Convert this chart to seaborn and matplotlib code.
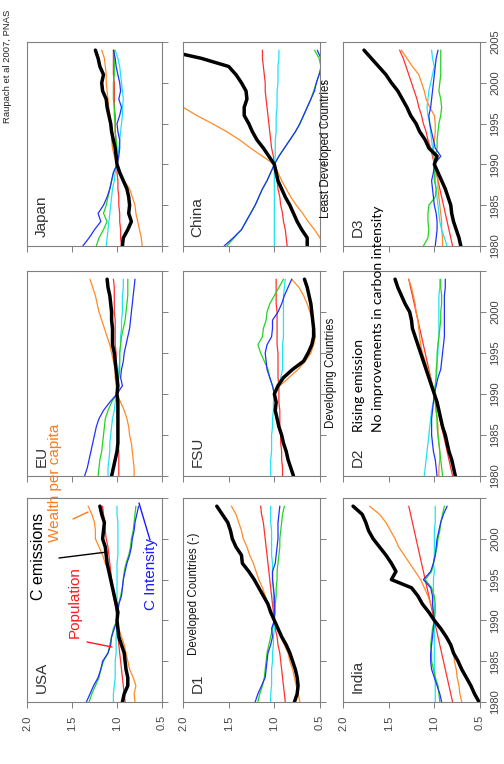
import numpy as np
import seaborn as sns
import matplotlib.pyplot as plt
from matplotlib.lines import Line2D

NA = np.nan
YEARS = list(range(1980, 2005))

# USA
usa_emis = [0.94, 0.92, 0.88, 0.88, 0.90, 0.91, 0.92, 0.95, 0.98, 0.99, 1.00, 0.99, 1.01, 1.03, 1.05, 1.07, 1.09, 1.11, 1.12, 1.13, 1.16, 1.15, 1.14, 1.17, 1.19]
usa_pop = [0.91, 0.92, 0.93, 0.94, 0.95, 0.96, 0.97, 0.98, 0.99, 0.99, 1.00, 1.01, 1.02, 1.04, 1.05, 1.06, 1.07, 1.08, 1.09, 1.10, 1.12, 1.13, 1.14, 1.15, 1.16]
usa_wealth = [0.80, 0.81, 0.79, 0.82, 0.86, 0.88, 0.90, 0.92, 0.95, 0.98, 1.00, 0.98, 1.00, 1.02, 1.05, 1.06, 1.09, 1.13, 1.16, 1.20, 1.24, 1.24, 1.25, 1.28, 1.32]
usa_cyan = [1.04, 1.04, 1.03, 1.02, 1.02, 1.02, 1.01, 1.01, 1.01, 1.00, 1.00, 1.00, 1.00, 1.00, 1.00, 1.00, 1.00, 1.00, 0.99, 0.99, 0.99, 0.99, 0.99, 1.00, 1.00]
usa_green = [1.31, 1.28, 1.24, 1.20, 1.18, 1.15, 1.10, 1.08, 1.06, 1.04, 1.00, 0.99, 0.98, 0.96, 0.94, 0.93, 0.92, 0.90, 0.87, 0.85, 0.84, 0.82, 0.81, 0.80, 0.79]
usa_cint = [1.34, 1.30, 1.26, 1.21, 1.18, 1.16, 1.10, 1.07, 1.06, 1.03, 1.00, 0.99, 0.98, 0.95, 0.94, 0.93, 0.91, 0.89, 0.86, 0.84, 0.83, 0.81, 0.80, 0.78, 0.76]

# EU
eu_emis = [1.06, 1.04, 1.02, 1.00, 0.99, 0.99, 0.99, 0.99, 0.99, 0.99, 1.00, 0.99, 1.00, 1.01, 1.02, 1.03, 1.05, 1.05, 1.05, 1.06, 1.06, 1.07, 1.08, 1.10, 1.11]
eu_pop = [0.98, 0.98, 0.98, 0.98, 0.99, 0.99, 0.99, 0.99, 0.99, 1.00, 1.00, 1.00, 1.01, 1.01, 1.01, 1.01, 1.02, 1.02, 1.02, 1.02, 1.03, 1.03, 1.03, 1.03, 1.04]
eu_wealth = [0.81, 0.81, 0.82, 0.83, 0.84, 0.86, 0.87, 0.89, 0.92, 0.96, 1.00, 1.01, 1.02, 1.02, 1.04, 1.06, 1.08, 1.11, 1.14, 1.17, 1.20, 1.22, 1.24, 1.27, 1.30]
eu_cyan = [1.10, 1.10, 1.09, 1.08, 1.08, 1.07, 1.06, 1.05, 1.03, 1.02, 1.00, 0.99, 0.99, 0.98, 0.97, 0.97, 0.96, 0.96, 0.95, 0.95, 0.94, 0.94, 0.94, 0.93, 0.93]
eu_green = [1.21, 1.20, 1.19, 1.17, 1.16, 1.15, 1.14, 1.13, 1.10, 1.06, 1.00, 0.99, 0.98, 0.97, 0.97, 0.97, 0.96, 0.95, 0.93, 0.91, 0.90, 0.89, 0.88, 0.88, 0.88]
eu_cint = [1.36, 1.33, 1.31, 1.29, 1.27, 1.25, 1.23, 1.20, 1.15, 1.08, 1.00, 0.94, 0.96, 0.95, 0.93, 0.92, 0.90, 0.88, 0.86, 0.85, 0.84, 0.83, 0.82, 0.81, 0.80]

# Japan
jp_emis = [0.94, 0.93, 0.88, 0.84, 0.87, 0.86, 0.87, 0.89, 0.93, 0.97, 1.00, 1.01, 1.02, 1.04, 1.06, 1.07, 1.09, 1.11, 1.12, 1.16, 1.17, 1.15, 1.19, 1.21, 1.24]
jp_pop = [0.95, 0.96, 0.96, 0.97, 0.97, 0.98, 0.98, 0.99, 0.99, 1.00, 1.00, 1.00, 1.01, 1.01, 1.02, 1.02, 1.02, 1.03, 1.03, 1.03, 1.03, 1.04, 1.04, 1.04, 1.04]
jp_wealth = [0.72, 0.73, 0.75, 0.77, 0.79, 0.80, 0.83, 0.86, 0.92, 0.96, 1.00, 1.03, 1.05, 1.06, 1.06, 1.07, 1.08, 1.09, 1.10, 1.11, 1.12, 1.12, 1.13, 1.14, 1.17]
jp_cyan = [1.12, 1.11, 1.10, 1.09, 1.08, 1.07, 1.06, 1.05, 1.03, 1.02, 1.00, 0.99, 0.98, 0.97, 0.96, 0.95, 0.94, 0.94, 0.93, 0.94, 0.95, 0.96, 0.97, 0.99, 1.02]
jp_green = [1.23, 1.20, 1.15, 1.11, 1.15, 1.12, 1.10, 1.08, 1.06, 1.04, 1.00, 1.00, 1.00, 1.01, 1.02, 1.02, 1.03, 1.03, 1.04, 1.04, 1.04, 1.03, 1.03, 1.03, 1.03]
jp_cint = [1.38, 1.31, 1.25, 1.18, 1.21, 1.15, 1.11, 1.08, 1.06, 1.04, 1.00, 0.98, 0.97, 0.97, 0.99, 1.00, 0.97, 0.95, 0.98, 0.96, 0.97, 0.99, 1.01, 1.02, 1.04]

# D1
d1_emis = [0.78, 0.75, 0.74, 0.75, 0.77, 0.80, 0.83, 0.87, 0.92, 0.96, 1.00, 1.04, 1.07, 1.12, 1.17, 1.22, 1.28, 1.35, 1.36, 1.42, 1.46, 1.48, 1.51, 1.57, 1.63]
d1_pop = [0.88, 0.89, 0.90, 0.91, 0.92, 0.93, 0.94, 0.96, 0.97, 0.99, 1.00, 1.01, 1.02, 1.03, 1.04, 1.05, 1.06, 1.07, 1.08, 1.09, 1.10, 1.11, 1.12, 1.14, 1.15]
d1_wealth = [0.72, 0.74, 0.76, 0.78, 0.80, 0.83, 0.85, 0.89, 0.93, 0.97, 1.00, 1.04, 1.07, 1.10, 1.13, 1.17, 1.20, 1.23, 1.27, 1.30, 1.34, 1.36, 1.39, 1.42, 1.47]
d1_cyan = [1.04, 1.04, 1.03, 1.03, 1.03, 1.02, 1.02, 1.01, 1.01, 1.00, 1.00, 1.00, 1.01, 1.01, 1.01, 1.02, 1.02, 1.02, 1.03, 1.03, 1.03, 1.03, 1.04, 1.04, 1.04]
d1_green = [1.18, 1.16, 1.13, 1.11, 1.10, 1.09, 1.08, 1.06, 1.04, 1.02, 1.00, 0.99, 0.99, 0.98, 0.98, 0.97, 0.97, 0.96, 0.95, 0.94, 0.94, 0.93, 0.92, 0.91, 0.89]
d1_cint = [1.21, 1.18, 1.14, 1.10, 1.09, 1.08, 1.07, 1.04, 1.02, 1.03, 1.00, 1.00, 1.00, 1.00, 1.01, 1.02, 1.02, 0.99, 0.98, 0.97, 0.96, 0.96, 0.96, 0.95, 0.94]

# FSU
fsu_emis = [0.79, 0.82, 0.85, 0.87, 0.90, 0.92, 0.95, 0.97, 0.99, 0.98, 1.00, 0.96, 0.90, 0.80, 0.68, 0.63, 0.59, 0.57, 0.57, 0.58, 0.59, 0.60, 0.62, 0.64, 0.67]
fsu_pop = [0.91, 0.91, 0.92, 0.92, 0.93, 0.93, 0.94, 0.94, 0.94, 0.95, 0.95, 0.95, 0.96, 0.96, 0.96, 0.96, 0.97, 0.97, 0.97, 0.97, 0.97, 0.98, 0.98, 0.98, 0.98]
fsu_wealth = [NA, NA, NA, NA, NA, NA, NA, NA, NA, NA, 1.00, 0.94, 0.84, 0.74, 0.66, 0.60, 0.57, 0.55, 0.56, 0.58, 0.61, 0.64, 0.68, 0.73, 0.81]
fsu_cyan = [1.04, 1.04, 1.04, 1.03, 1.03, 1.03, 1.02, 1.02, 1.01, 1.01, 1.00, 0.96, 0.93, 0.91, 0.91, 0.91, 0.91, 0.90, 0.90, 0.90, 0.90, 0.90, 0.90, 0.89, 0.88]
fsu_green = [NA, NA, NA, NA, NA, NA, NA, NA, NA, NA, 1.00, 1.02, 1.05, 1.07, 1.11, 1.15, 1.18, 1.13, 1.12, 1.09, 1.08, 1.05, 1.00, 0.95, 0.90]
fsu_cint = [NA, NA, NA, NA, NA, NA, NA, NA, NA, NA, 1.00, 1.02, 1.05, 1.08, 1.09, 1.10, 1.08, 1.03, 1.02, 1.02, 0.96, 0.92, 0.89, 0.85, 0.81]

# China
cn_emis = [0.64, 0.64, 0.70, 0.75, 0.79, 0.83, 0.88, 0.92, 0.96, 0.98, 1.00, 1.06, 1.12, 1.19, 1.24, 1.28, 1.33, 1.33, 1.30, 1.31, 1.36, 1.42, 1.50, 1.80, 2.20]
cn_pop = [0.86, 0.87, 0.88, 0.90, 0.91, 0.93, 0.94, 0.96, 0.97, 0.99, 1.00, 1.01, 1.03, 1.04, 1.05, 1.06, 1.07, 1.08, 1.09, 1.10, 1.10, 1.11, 1.12, 1.13, 1.13]
cn_wealth = [0.45, 0.50, 0.56, 0.63, 0.69, 0.76, 0.82, 0.87, 0.92, 0.96, 1.00, 1.13, 1.26, 1.38, 1.52, 1.68, 1.85, 2.00, 2.15, 2.30, 2.45, 2.62, 2.80, 3.05, 3.35]
cn_cyan = [1.00, 1.00, 1.00, 1.00, 1.00, 1.00, 1.00, 1.00, 1.00, 1.00, 1.00, 0.99, 0.99, 0.99, 0.98, 0.98, 0.98, 0.97, 0.97, 0.97, 0.96, 0.96, 0.96, 0.95, 0.95]
cn_green = [1.52, 1.44, 1.36, 1.31, 1.26, 1.21, 1.17, 1.13, 1.08, 1.04, 1.00, 0.95, 0.89, 0.83, 0.77, 0.72, 0.68, 0.64, 0.60, 0.57, 0.54, 0.51, 0.49, 0.51, 0.56]
cn_cint = [1.55, 1.45, 1.36, 1.31, 1.26, 1.21, 1.17, 1.13, 1.08, 1.04, 1.00, 0.95, 0.89, 0.83, 0.77, 0.72, 0.68, 0.64, 0.60, 0.56, 0.54, 0.51, 0.48, 0.49, 0.53]

# India
in_emis = [0.51, 0.56, 0.60, 0.65, 0.70, 0.74, 0.79, 0.82, 0.87, 0.93, 1.00, 1.06, 1.13, 1.18, 1.25, 1.47, 1.42, 1.47, 1.53, 1.60, 1.67, 1.72, 1.75, 1.79, 1.89]
in_pop = [0.80, 0.82, 0.84, 0.86, 0.88, 0.90, 0.92, 0.94, 0.96, 0.98, 1.00, 1.02, 1.04, 1.06, 1.08, 1.10, 1.12, 1.14, 1.16, 1.18, 1.20, 1.22, 1.24, 1.26, 1.28]
in_wealth = [0.70, 0.72, 0.73, 0.75, 0.76, 0.78, 0.79, 0.83, 0.87, 0.93, 1.00, 1.00, 1.04, 1.07, 1.11, 1.15, 1.21, 1.27, 1.33, 1.39, 1.43, 1.48, 1.53, 1.60, 1.71]
in_cyan = [0.99, 0.99, 0.99, 0.99, 1.00, 1.00, 1.00, 1.00, 1.00, 1.00, 1.00, 1.00, 1.00, 1.01, 1.01, 1.01, 1.00, 1.01, 1.00, 1.00, 1.00, 1.00, 0.99, 0.99, 0.99]
in_green = [0.94, 0.95, 0.96, 0.99, 1.01, 1.03, 1.03, 1.04, 1.03, 1.02, 1.00, 0.99, 0.99, 1.00, 1.03, 1.10, 1.03, 1.01, 0.99, 0.97, 0.96, 0.94, 0.93, 0.91, 0.89]
in_cint = [0.92, 0.94, 0.97, 1.00, 1.03, 1.04, 1.04, 1.03, 1.02, 1.01, 1.00, 1.01, 1.02, 1.02, 1.04, 1.12, 1.04, 1.01, 0.99, 0.98, 0.97, 0.95, 0.93, 0.90, 0.86]

# D2
d2_emis = [0.77, 0.79, 0.81, 0.84, 0.86, 0.88, 0.91, 0.93, 0.95, 0.97, 1.00, 1.03, 1.06, 1.09, 1.12, 1.15, 1.18, 1.21, 1.24, 1.25, 1.27, 1.32, 1.36, 1.40, 1.43]
d2_pop = [0.80, 0.82, 0.84, 0.86, 0.88, 0.90, 0.92, 0.94, 0.96, 0.98, 1.00, 1.02, 1.04, 1.06, 1.08, 1.10, 1.12, 1.14, 1.16, 1.18, 1.20, 1.22, 1.24, 1.26, 1.28]
d2_wealth = [0.95, 0.95, 0.94, 0.94, 0.95, 0.96, 0.96, 0.97, 0.98, 0.99, 1.00, 1.02, 1.04, 1.07, 1.10, 1.13, 1.15, 1.16, 1.17, 1.18, 1.20, 1.21, 1.23, 1.25, 1.28]
d2_cyan = [1.11, 1.10, 1.09, 1.08, 1.07, 1.06, 1.05, 1.04, 1.03, 1.01, 1.00, 0.99, 0.98, 0.97, 0.97, 0.96, 0.96, 0.95, 0.95, 0.95, 0.95, 0.95, 0.95, 0.94, 0.94]
d2_green = [0.91, 0.92, 0.93, 0.94, 0.95, 0.96, 0.97, 0.97, 0.98, 0.99, 1.00, 0.99, 0.98, 0.98, 0.97, 0.97, 0.96, 0.95, 0.94, 0.93, 0.93, 0.92, 0.92, 0.93, 0.93]
d2_cint = [0.97, 0.98, 0.99, 1.01, 1.02, 1.03, 1.03, 1.03, 1.02, 1.01, 1.00, 0.98, 0.96, 0.93, 0.92, 0.91, 0.90, 0.89, 0.89, 0.89, 0.89, 0.89, 0.89, 0.88, 0.88]

# D3
d3_emis = [0.71, 0.73, 0.76, 0.79, 0.81, 0.82, 0.85, 0.88, 0.92, 0.96, 1.00, 0.97, 1.06, 1.10, 1.16, 1.20, 1.26, 1.30, 1.35, 1.40, 1.47, 1.53, 1.61, 1.69, 1.77]
d3_pop = [0.80, 0.82, 0.84, 0.86, 0.88, 0.90, 0.92, 0.94, 0.96, 0.98, 1.00, 1.02, 1.04, 1.07, 1.09, 1.12, 1.14, 1.17, 1.19, 1.22, 1.25, 1.28, 1.31, 1.34, 1.38]
d3_wealth = [0.91, 0.91, 0.92, 0.92, 0.93, 0.94, 0.95, 0.96, 0.96, 0.97, 1.00, 1.01, 1.01, 1.00, 0.99, 0.99, 1.00, 1.05, 1.09, 1.11, 1.14, 1.17, 1.24, 1.30, 1.36]
d3_cyan = [0.86, 0.89, 0.92, 0.94, 0.95, 0.96, 0.97, 0.98, 0.99, 0.99, 1.00, 1.01, 1.02, 1.03, 1.04, 1.05, 1.07, 1.08, 1.07, 1.06, 1.04, 1.02, 1.00, 1.02, 1.03]
d3_green = [1.12, 1.07, 1.06, 1.07, 1.07, 1.06, 0.99, 0.98, 1.00, 1.00, 1.00, 0.99, 0.97, 0.97, 0.96, 0.95, 0.93, 0.92, 0.93, 0.95, 0.94, 0.93, 0.93, 0.93, 0.93]
d3_cint = [0.99, 0.98, 0.97, 0.97, 0.98, 1.00, 1.01, 1.02, 1.03, 1.01, 1.00, 0.93, 0.99, 1.01, 1.03, 1.05, 1.06, 1.04, 1.03, 1.02, 1.01, 1.00, 0.99, 0.98, 0.96]

VALUE_TICKS = [2.0, 1.5, 1.0, 0.5]
VALUE_LABELS = ['2.0', '1.5', '1.0', '0.5']
YEAR_TICKS = [1980, 1985, 1990, 1995, 2000, 2005]

PANELS = {
    'USA': [usa_pop, usa_wealth, usa_cyan, usa_green, usa_cint, usa_emis],
    'EU': [eu_pop, eu_wealth, eu_cyan, eu_green, eu_cint, eu_emis],
    'Japan': [jp_pop, jp_wealth, jp_cyan, jp_green, jp_cint, jp_emis],
    'D1': [d1_pop, d1_wealth, d1_cyan, d1_green, d1_cint, d1_emis],
    'FSU': [fsu_pop, fsu_wealth, fsu_cyan, fsu_green, fsu_cint, fsu_emis],
    'China': [cn_pop, cn_wealth, cn_cyan, cn_green, cn_cint, cn_emis],
    'India': [in_pop, in_wealth, in_cyan, in_green, in_cint, in_emis],
    'D2': [d2_pop, d2_wealth, d2_cyan, d2_green, d2_cint, d2_emis],
    'D3': [d3_pop, d3_wealth, d3_cyan, d3_green, d3_cint, d3_emis],
}
COLORS = ['#ff3030', '#ff8a26', '#22e3f2', '#22d422', '#2030ff', '#000000']
WIDTHS = [0.9, 0.9, 0.9, 0.9, 0.9, 2.5]

# the whole figure is turned a quarter turn: image rows/cols
GRID = [['Japan', 'China', 'D3'],
        ['EU', 'FSU', 'D2'],
        ['USA', 'D1', 'India']]
COL_PX = [(27, 162), (183, 320), (343, 480)]
ROW_PX = [(42, 246), (271, 476), (498, 702)]
W, H = 504, 764


def fx(x):
    return x / W


def fy(y):
    return 1 - y / H


sns.set_theme(style='white')
plt.rcParams['font.family'] = ['Liberation Sans', 'DejaVu Sans']

fig = plt.figure(figsize=(W / 100, H / 100), dpi=100)

for r, row in enumerate(GRID):
    for c, name in enumerate(row):
        x0, x1 = COL_PX[c]
        y0, y1 = ROW_PX[r]
        ax = fig.add_axes([fx(x0), fy(y1), (x1 - x0) / W, (y1 - y0) / H])
        for vals, col, lw in zip(PANELS[name], COLORS, WIDTHS):
            sns.lineplot(x=vals, y=YEARS, orient='y', sort=False, estimator=None,
                         color=col, linewidth=lw, legend=False, ax=ax)
        ax.set_xlim(2.0, 0.5)
        ax.set_ylim(1980, 2005)
        ax.set_xticks(VALUE_TICKS)
        ax.set_xticklabels(VALUE_LABELS)
        ax.set_yticks(YEAR_TICKS)
        # only the top image row keeps its 2005 label
        ax.set_yticklabels([str(y) if (y < 2005 or r == 0) else '' for y in YEAR_TICKS])
        ax.set_xlabel('')
        ax.set_ylabel('')
        for sp in ax.spines.values():
            sp.set_color('#808080')
            sp.set_linewidth(0.8)
        ax.tick_params(axis='x', bottom=True, top=False, direction='out', length=4.5,
                       width=0.7, color='#808080', labelbottom=(r == 2), labelrotation=90,
                       labelsize=8, labelcolor='#444444', pad=5)
        ax.tick_params(axis='y', left=False, right=True, direction='out', length=4.5,
                       width=0.7, color='#808080', labelleft=False, labelright=(c == 2),
                       labelrotation=90, labelsize=8, labelcolor='#444444', pad=3)
        for lab in ax.get_yticklabels():
            lab.set_va('center')
        ax.text(0.055, 0.045, name, transform=ax.transAxes, rotation=90,
                ha='left', va='bottom', fontsize=11, color='#333333')

# row captions and source
narrow = ['Liberation Sans Narrow', 'Liberation Sans', 'DejaVu Sans']
fig.text(fx(3), fy(123), 'Raupach et al 2007, PNAS', rotation=90, ha='left', va='bottom',
         fontsize=6.8, family=narrow, color='#222222')
fig.text(fx(320), fy(218), 'Least Developed Countries', rotation=90, ha='left', va='bottom',
         fontsize=8.3, family=narrow, color='#111111')
fig.text(fx(325), fy(428), 'Developing Countries', rotation=90, ha='left', va='bottom',
         fontsize=8.3, family=narrow, color='#111111')
fig.text(fx(188), fy(655), 'Developed Countries (-)', rotation=90, ha='left', va='bottom',
         fontsize=8.3, family=narrow, color='#111111')

# D2 / D3 comment
fig.text(fx(353), fy(432), 'Rising emission', rotation=90, ha='left', va='bottom',
         fontsize=10, family=['Lato', 'DejaVu Sans'], color='black')
fig.text(fx(372), fy(432), 'No improvements in carbon intensity', rotation=90, ha='left',
         va='bottom', fontsize=10, family=['Lato', 'DejaVu Sans'], color='black')

# USA factor labels with leader lines
fig.text(fx(31), fy(600), 'C emissions', rotation=90, ha='left', va='bottom',
         fontsize=11.5, color='black')
fig.text(fx(48), fy(542), 'Wealth per capita', rotation=90, ha='left', va='bottom',
         fontsize=11, color='#ff7a1a')
fig.text(fx(68), fy(638), 'Population', rotation=90, ha='left', va='bottom',
         fontsize=11, color='#ff1a1a')
fig.text(fx(144), fy(610), 'C Intensity', rotation=90, ha='left', va='bottom',
         fontsize=11, color='#1a1aff')

LEADERS = [((59, 558), (107, 552), 'black'),
           ((73, 519), (88, 512), '#ff7a1a'),
           ((87, 642), (112, 647), '#ff1a1a'),
           ((150, 540), (139, 503), '#1a1aff')]
for (xa, ya), (xb, yb), col in LEADERS:
    fig.add_artist(Line2D([fx(xa), fx(xb)], [fy(ya), fy(yb)], transform=fig.transFigure,
                          color=col, linewidth=1.0))

fig.savefig('out.png', dpi=100)
